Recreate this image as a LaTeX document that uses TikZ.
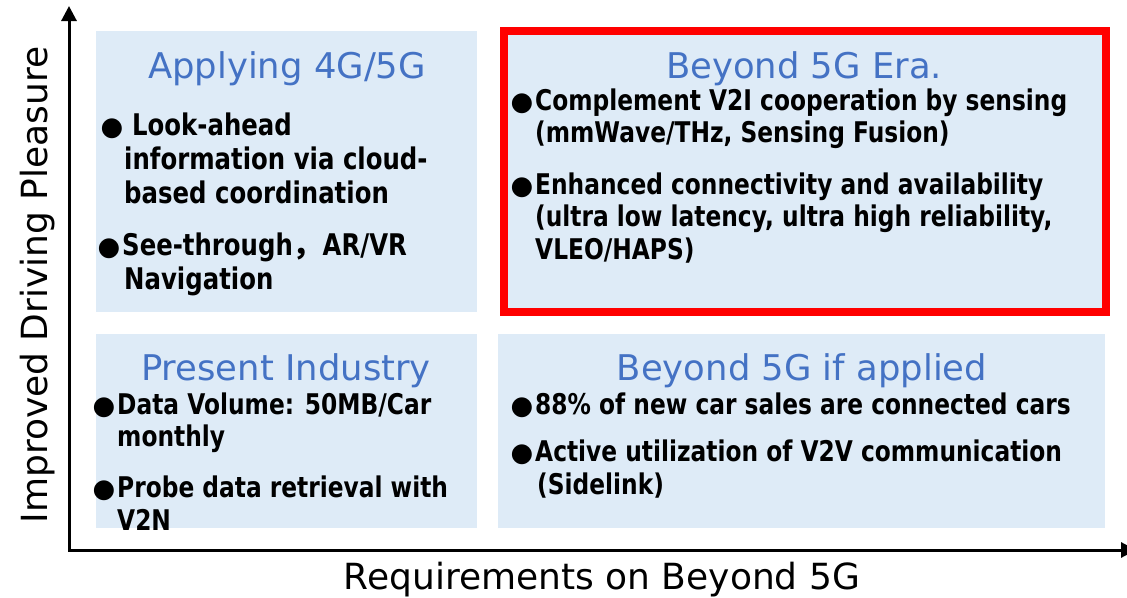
\documentclass[tikz,border=0pt]{standalone}
\usepackage{fontspec}
\usetikzlibrary{arrows.meta}
\newfontfamily\dvs{DejaVu Sans}
\newfontfamily\cjk{Noto Sans CJK JP}
\newlength\tmpw
\settowidth\tmpw{\dvs\bfseries\fontsize{28.5}{34}\selectfont Complement V2I cooperation by sensing}
\pgfmathsetmacro\bstretch{532/\tmpw}
\edef\tmpdef{\noexpand\newfontfamily\noexpand\itemfam[FakeStretch=\bstretch]{DejaVu Sans}}
\tmpdef
\definecolor{boxblue}{HTML}{DEEBF7}
\definecolor{titleblue}{HTML}{4472C4}
\definecolor{framered}{HTML}{FF0000}
\newcommand\bulglyph{{\dvs\fontsize{26}{34}\selectfont ●}}
\newcommand\bul{\llap{\bulglyph\hspace{2pt}}}
\begin{document}
\begin{tikzpicture}[x=1pt,y=-1pt,
  quad/.style={fill=boxblue, draw=none, inner sep=0pt, outer sep=0pt},
  ttl/.style={font=\dvs\fontsize{35.4}{42}\selectfont, text=titleblue, anchor=base, inner sep=0pt},
  itm/.style={font=\itemfam\bfseries\fontsize{28.5}{34}\selectfont, anchor=base west, inner sep=0pt},
  itmbig/.style={itm, font=\itemfam\bfseries\fontsize{29.8}{36}\selectfont},
  axlabel/.style={font=\dvs\fontsize{36}{43}\selectfont, anchor=base, inner sep=0pt},
  axisline/.style={line width=3pt, line join=miter,
    {Triangle[width=15pt,length=15pt]}-{Triangle[width=15pt,length=15pt]}}]
\useasboundingbox (0,0) rectangle (1127,597);
% quadrants
\node[quad, minimum width=381pt, minimum height=281pt] (qtl) at (286.5,171.5) {};
\node[quad, minimum width=381pt, minimum height=194pt] (qbl) at (286.5,431) {};
\node[quad, minimum width=607pt, minimum height=194pt] (qbr) at (801.5,431) {};
\node[quad, draw=framered, line width=8pt, minimum width=601.5pt, minimum height=281pt] (qtr) at (804.75,171.5) {};
% axes
\coordinate (O) at (69,550);
\coordinate (ytip) at (69,6);
\coordinate (xtip) at (1136,550);
\draw[axisline] (ytip) -- (O) -- (xtip);
\node[axlabel] (xlab) at (602,589) {Requirements on Beyond 5G};
\node[axlabel, rotate=90] (ylab) at (47,285) {Improved Driving Pleasure};
% titles
\node[ttl] (t1) at (287,78) {Applying 4G/5G};
\node[ttl] (t2) at (804,78) {Beyond 5G Era.};
\node[ttl] (t3) at (286,380) {Present Industry};
\node[ttl] (t4) at (802,380) {Beyond 5G if applied};
% top-left items
\node[itmbig] (a1) at (132,135) {\llap{\bulglyph\hspace{9pt}}Look-ahead};
\node[itmbig] (a2) at (124,169) {information via cloud-};
\node[itmbig] (a3) at (124,203) {based coordination};
\node[itmbig] (a4) at (122,255) {\bul See-through{\cjk\bfseries ，}AR/VR};
\node[itmbig] (a5) at (124,289) {Navigation};
% top-right items
\node[itm] (b1) at (535,110) {\bul Complement V2I cooperation by sensing};
\node[itm] (b2) at (535,142) {(mmWave/THz, Sensing Fusion)};
\node[itm] (b3) at (535,194) {\bul Enhanced connectivity and availability};
\node[itm] (b4) at (535,226) {(ultra low latency, ultra high reliability,};
\node[itm] (b5) at (535,259) {VLEO/HAPS)};
% bottom-left items
\node[itm] (c1) at (117,414) {\bul Data Volume: 50MB/Car};
\node[itm] (c2) at (117,446) {monthly};
\node[itm] (c3) at (117,497) {\bul Probe data retrieval with};
\node[itm] (c4) at (117,530) {V2N};
% bottom-right items
\node[itm] (d1) at (535,414) {\bul 88\% of new car sales are connected cars};
\node[itm] (d2) at (535,461) {\bul Active utilization of V2V communication};
\node[itm] (d3) at (537,494) {(Sidelink)};
\end{tikzpicture}
\end{document}
